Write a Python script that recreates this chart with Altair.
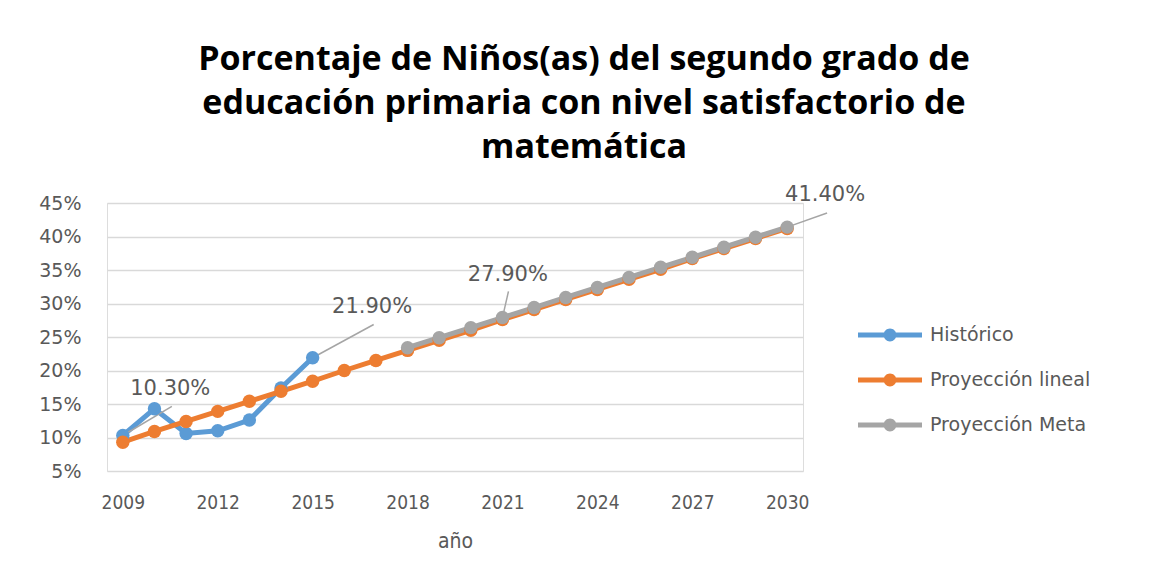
import altair as alt
import pandas as pd

years_hist = [2009, 2010, 2011, 2012, 2013, 2014, 2015]
hist = [0.103, 0.143, 0.106, 0.110, 0.126, 0.174, 0.219]

years_lin = list(range(2009, 2031))
lin = [0.093, 0.109, 0.124, 0.139, 0.154, 0.169, 0.184, 0.200, 0.215, 0.230, 0.245,
       0.260, 0.276, 0.291, 0.306, 0.321, 0.336, 0.351, 0.367, 0.382, 0.397, 0.412]

years_meta = list(range(2018, 2031))
meta = [0.234, 0.249, 0.264, 0.279, 0.294, 0.309, 0.324, 0.339, 0.354, 0.369, 0.384, 0.399, 0.414]

series = ["Histórico", "Proyección lineal", "Proyección Meta"]
colors = ["#5B9BD5", "#ED7D31", "#A5A5A5"]

y_ticks = [0.05, 0.10, 0.15, 0.20, 0.25, 0.30, 0.35, 0.40, 0.45]
x_ticks = [2009, 2012, 2015, 2018, 2021, 2024, 2027, 2030]

# data labels: point (year, value) and label anchor (year, value)
lab_year = [2009, 2015, 2021, 2030]
lab_value = [0.103, 0.219, 0.279, 0.414]
lab_text = ["10.30%", "21.90%", "27.90%", "41.40%"]
lab_tx = [2010.5, 2016.88, 2021.17, 2031.2]
lab_ty = [0.173, 0.2945, 0.343, 0.462]
lead_x = [2010.55, 2016.93, 2021.19, 2031.26]
lead_y = [0.1466, 0.2687, 0.318, 0.435]

rows = []
for y, v in zip(years_hist, hist):
    rows.append({"year": y, "value": v, "serie": series[0]})
for y, v in zip(years_lin, lin):
    rows.append({"year": y, "value": v, "serie": series[1]})
for y, v in zip(years_meta, meta):
    rows.append({"year": y, "value": v, "serie": series[2]})
df = pd.DataFrame(rows)

labels = pd.DataFrame({"year": lab_year, "value": lab_value, "text": lab_text,
                       "tx": lab_tx, "ty": lab_ty, "lx": lead_x, "ly": lead_y})

xscale = alt.Scale(domain=[2008.5, 2030.5], nice=False, zero=False)
yscale = alt.Scale(domain=[0.05, 0.45], nice=False, zero=False)
cscale = alt.Scale(domain=series, range=colors)

narrow = "DejaVu Sans Condensed, Roboto, sans-serif"

x_axis = alt.Axis(values=x_ticks, tickCount=30, format="d", grid=False, domain=False,
                  ticks=False, labelPadding=22, title="año", titlePadding=18,
                  labelFont=narrow, labelFontSize=19, labelColor="#595959",
                  labelOverlap=False,
                  titleFont=narrow, titleFontSize=21, titleColor="#595959",
                  titleFontWeight="normal")
y_axis = alt.Axis(values=y_ticks, tickCount=30, format=".0%",
                  grid=True, gridColor="#D9D9D9", gridWidth=1.5, domain=False, ticks=False,
                  labelPadding=26, title=None, labelFont="DejaVu Sans", labelFontSize=19,
                  labelColor="#595959", labelOverlap=False)

legend_symbol = ("M-2,-0.16 L2,-0.16 L2,0.16 L-2,0.16 Z "
                 "M-0.4,0 A0.4,0.4 0 1,1 0.4,0 A0.4,0.4 0 1,1 -0.4,0 Z")

legend = alt.Legend(orient="none", legendX=767, legendY=116,
                    symbolType=legend_symbol, symbolSize=1024,
                    symbolStrokeWidth=0, symbolOpacity=1,
                    labelFont="DejaVu Sans", labelFontSize=19,
                    labelColor="#595959", labelOffset=24, labelLimit=400,
                    rowPadding=19, padding=0, title=None)

base = alt.Chart(df)

lines = base.mark_line(strokeWidth=5).encode(
    x=alt.X("year:Q", scale=xscale, axis=x_axis),
    y=alt.Y("value:Q", scale=yscale, axis=y_axis),
    color=alt.Color("serie:N", scale=cscale, legend=legend),
    detail="serie:N",
)

points = base.mark_point(filled=True, size=180, opacity=1).encode(
    x=alt.X("year:Q", scale=xscale),
    y=alt.Y("value:Q", scale=yscale),
    color=alt.Color("serie:N", scale=cscale, legend=legend),
)

leaders = alt.Chart(labels).mark_rule(color="#A5A5A5", strokeWidth=1.5).encode(
    x=alt.X("year:Q", scale=xscale),
    y=alt.Y("value:Q", scale=yscale),
    x2="lx:Q",
    y2="ly:Q",
)

texts = alt.Chart(labels).mark_text(font="DejaVu Sans", fontSize=21, color="#595959",
                                     align="center", baseline="middle").encode(
    x=alt.X("tx:Q", scale=xscale),
    y=alt.Y("ty:Q", scale=yscale),
    text="text:N",
)

chart = alt.layer(lines, leaders, points, texts).properties(
    width=696,
    height=268,
    padding={"left": 99, "top": 195, "right": 330, "bottom": 95},
    autosize=alt.AutoSizeParams(type="none"),
    title=alt.TitleParams(
        ["Porcentaje de Niños(as) del segundo grado de",
         "educación primaria con nivel satisfactorio de",
         "matemática"],
        anchor="middle", dx=129, offset=19, fontSize=34, font="Open Sans",
        fontWeight="bold", color="#000000", lineHeight=44,
    ),
).configure_view(strokeWidth=0).configure(background="white")

chart.save("out.html", embed_options={"renderer": "svg", "actions": False})
